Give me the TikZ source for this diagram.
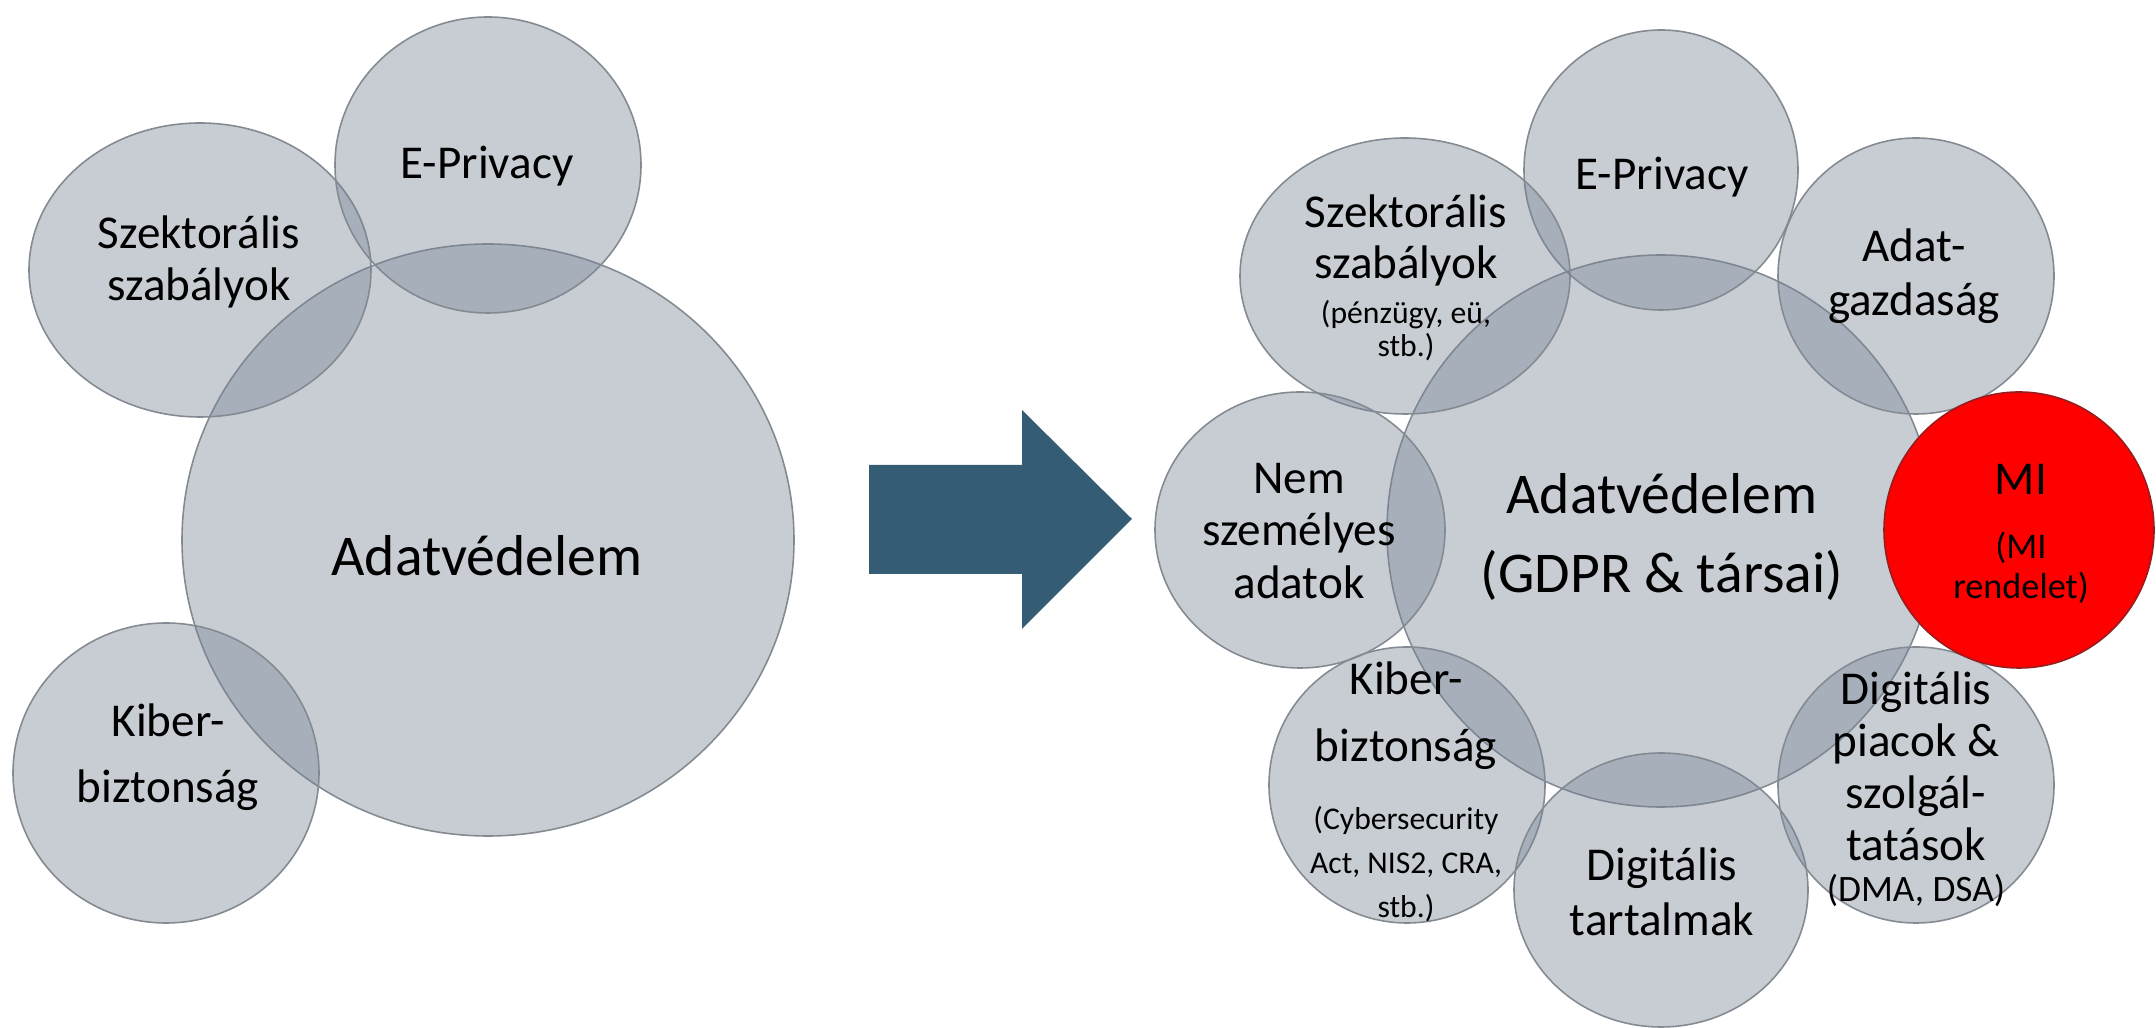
\documentclass[tikz,border=0pt]{standalone}
\usepackage{fontspec}
\setmainfont{Carlito}
\definecolor{bubgray}{RGB}{118,130,148}
\definecolor{bubedge}{RGB}{132,138,146}
\definecolor{arrowblue}{RGB}{52,92,116}
\definecolor{miedge}{RGB}{150,30,30}

\begin{document}
\begin{tikzpicture}[x=0.01cm,y=-0.01cm,
  bub/.style={fill=bubgray,fill opacity=0.4,draw=bubedge,line width=0.45pt},
  mibub/.style={fill=red,draw=miedge,line width=0.45pt},
  lbl/.style={align=center,inner sep=0pt,font=\fontsize{13.4}{#1}\selectfont},
  note/.style={align=center,inner sep=0pt,font=\fontsize{9}{#1}\selectfont},
  big/.style={align=center,inner sep=0pt,font=\fontsize{16.4}{22.2}\selectfont}]
\useasboundingbox (0,0) rectangle (2156,1028);
\draw[bub] (488,540) ellipse [x radius=306, y radius=296];
\draw[bub] (200,270) ellipse [x radius=171, y radius=147];
\draw[bub] (488,165) ellipse [x radius=153, y radius=148];
\draw[bub] (166,773) ellipse [x radius=153, y radius=150];
\node[lbl=14.8] (lszek) at (199,262) {Szektorális\\szabályok};
\node[lbl=14.8] (lepriv) at (487,166) {E-Privacy};
\node[big] (ladat) at (487,556) {Adatvédelem};
\node[lbl=18.8] (lkiber) at (168,757) {Kiber-\\biztonság};
\fill[arrowblue] (869,465) -- (1022,465) -- (1022,410) -- (1132,519) -- (1022,629) -- (1022,574) -- (869,574) -- cycle;
\draw[bub] (1661,531) ellipse [x radius=274, y radius=276];
\draw[bub] (1661,170) ellipse [x radius=137, y radius=140];
\draw[bub] (1405,276) ellipse [x radius=165, y radius=138];
\draw[bub] (1916,276) ellipse [x radius=138, y radius=138];
\draw[bub] (1300,530) ellipse [x radius=145, y radius=138];
\draw[bub] (1407,785) ellipse [x radius=138, y radius=138];
\draw[bub] (1661,890) ellipse [x radius=147, y radius=137];
\draw[bub] (1916,785) ellipse [x radius=138, y radius=138];
\draw[mibub] (2019,530) ellipse [x radius=135, y radius=138];
\node[lbl=14.8] (repriv) at (1662,177) {E-Privacy};
\node[lbl=14.5] (rszek) at (1406,240) {Szektorális\\szabályok};
\node[note=9.4] (rszeknote) at (1406,331) {(pénzügy, eü,\\stb.)};
\node[lbl=15.4] (radat) at (1914,276) {Adat-\\gazdaság};
\node[lbl=14.9] (rnem) at (1299,531) {Nem\\személyes\\adatok};
\node[big] (rcenter) at (1662,537) {Adatvédelem\\(GDPR \& társai)};
\node[lbl=14.8] (rmi) at (2021,479) {MI};
\node[note=11.4,font=\fontsize{10.3}{11.4}\selectfont] (rminote) at (2021,568) {(MI\\rendelet)};
\node[lbl=19] (rkiber) at (1406,716) {Kiber-\\biztonság};
\node[note=12.5] (rkibernote) at (1406,864) {(Cybersecurity\\Act, NIS2, CRA,\\stb.)};
\node[lbl=15.6] (rtartalom) at (1662,892) {Digitális\\tartalmak};
\node[lbl=14.8] (rpiac) at (1916,766) {Digitális\\piacok \&\\szolgál-\\tatások};
\node[note=12,font=\fontsize{10.6}{12}\selectfont] (rpiacnote) at (1916,890) {(DMA, DSA)};
\end{tikzpicture}
\end{document}
